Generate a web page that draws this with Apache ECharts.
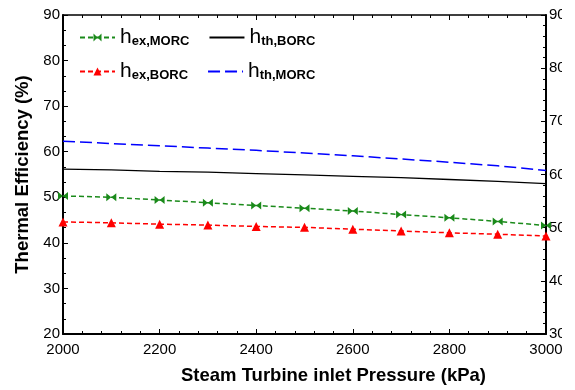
<!DOCTYPE html>
<html>
<head>
<meta charset="utf-8">
<script src="https://cdn.jsdelivr.net/npm/echarts@6/dist/echarts.min.js"></script>
<style>
  html, body { margin: 0; padding: 0; background: #fff; }
  .crop { width: 562px; height: 390px; overflow: hidden; }
  #chart { width: 575px; height: 390px; }
</style>
</head>
<body>
<div class="crop"><div id="chart"></div></div>
<script>
// steam turbine inlet pressure (kPa)
const pressure = [2000, 2100, 2200, 2300, 2400, 2500, 2600, 2700, 2800, 2900, 3000]
// efficiencies (%)
const hexMORC = [50.3, 50.0, 49.4, 48.8, 48.2, 47.6, 47.0, 46.2, 45.5, 44.7, 43.8]
const hthBORC = [56.2, 56.0, 55.7, 55.5, 55.2, 54.9, 54.6, 54.3, 53.9, 53.5, 53.0]
const hexBORC = [44.6, 44.4, 44.1, 43.9, 43.6, 43.4, 43.0, 42.6, 42.2, 41.9, 41.5]
const hthMORC = [62.3, 61.8, 61.3, 60.8, 60.3, 59.7, 59.1, 58.4, 57.7, 56.9, 55.9]

const subs = {
  hexMORC: 'ex,MORC',
  hthBORC: 'th,BORC',
  hexBORC: 'ex,BORC',
  hthMORC: 'th,MORC'
}

const font = 'Liberation Sans, Arial, sans-serif'
// bowtie marker used for the green series
const bowtie = 'path://M0,0 L5,5 L0,10 Z M10,0 L5,5 L10,10 Z'

const pairs = vals => pressure.map((p, i) => [p, vals[i]])

const chart = echarts.init(document.getElementById('chart'))

const legendBase = {
  left: 74,
  itemWidth: 35,
  itemHeight: 10,
  itemGap: 19,
  textStyle: {
    color: '#000',
    rich: {
      h: { fontSize: 21, fontFamily: font, color: '#000' },
      s: { fontSize: 13, fontWeight: 'bold', fontFamily: font, color: '#000', padding: [8, 0, 0, 0] }
    }
  },
  formatter: name => '{h|h}{s|' + subs[name] + '}'
}

const tickStyle = { color: '#000', width: 1 }

chart.setOption({
  animation: false,
  grid: { left: 63, right: 29, top: 15, bottom: 53 },
  legend: [
    Object.assign({}, legendBase, {
      top: 22,
      data: ['hexMORC', { name: 'hthBORC', itemStyle: { opacity: 0 } }]
    }),
    Object.assign({}, legendBase, {
      top: 56,
      data: ['hexBORC', { name: 'hthMORC', itemStyle: { opacity: 0 } }]
    })
  ],
  xAxis: [
    {
      type: 'value',
      min: 2000,
      max: 3000,
      interval: 200,
      name: 'Steam Turbine inlet Pressure (kPa)',
      nameLocation: 'middle',
      nameGap: 32,
      nameTextStyle: {
        fontSize: 18.5, fontWeight: 'bold', fontFamily: font, color: '#000',
        padding: [0, 0, 0, 58]
      },
      axisLine: { lineStyle: { color: '#000', width: 2 } },
      axisTick: { show: true, inside: true, length: 5, lineStyle: tickStyle },
      minorTick: { show: true, splitNumber: 5, length: 3, lineStyle: tickStyle },
      axisLabel: { fontSize: 15, fontFamily: font, color: '#000', margin: 8, formatter: v => String(v) },
      splitLine: { show: false }
    },
    {
      type: 'value',
      position: 'top',
      min: 2000,
      max: 3000,
      interval: 200,
      axisLine: { lineStyle: { color: '#000', width: 1.5 } },
      axisTick: { show: true, inside: true, length: 5, lineStyle: tickStyle },
      minorTick: { show: true, splitNumber: 5, length: 3, lineStyle: tickStyle },
      axisLabel: { show: false },
      splitLine: { show: false }
    }
  ],
  yAxis: [
    {
      type: 'value',
      min: 20,
      max: 90,
      interval: 10,
      name: 'Thermal Efficiency (%)',
      nameLocation: 'middle',
      nameGap: 29,
      nameTextStyle: { fontSize: 18.5, fontWeight: 'bold', fontFamily: font, color: '#000' },
      axisLine: { show: true, lineStyle: { color: '#000', width: 2 } },
      axisTick: { show: true, inside: true, length: 5, lineStyle: tickStyle },
      minorTick: { show: true, splitNumber: 3, length: 3, lineStyle: tickStyle },
      axisLabel: { fontSize: 15, fontFamily: font, color: '#000', margin: 3 },
      splitLine: { show: false }
    },
    {
      type: 'value',
      position: 'right',
      min: 30,
      max: 90,
      interval: 10,
      axisLine: { show: true, lineStyle: { color: '#000', width: 2 } },
      axisTick: { show: true, inside: true, length: 5, lineStyle: tickStyle },
      minorTick: { show: true, splitNumber: 5, length: 3, lineStyle: tickStyle },
      axisLabel: { fontSize: 15, fontFamily: font, color: '#000', margin: 3 },
      splitLine: { show: false }
    }
  ],
  series: [
    {
      name: 'hexMORC',
      type: 'line',
      data: pairs(hexMORC),
      symbol: bowtie,
      symbolSize: [10, 8],
      itemStyle: { color: '#1a8a1a' },
      lineStyle: { color: '#1a8a1a', width: 1.5, type: [5, 3] }
    },
    {
      name: 'hthBORC',
      type: 'line',
      data: pairs(hthBORC),
      symbol: 'none',
      itemStyle: { color: '#000' },
      lineStyle: { color: '#000', width: 1.3 }
    },
    {
      name: 'hexBORC',
      type: 'line',
      data: pairs(hexBORC),
      symbol: 'triangle',
      symbolSize: 9,
      itemStyle: { color: '#ff0000' },
      lineStyle: { color: '#ff0000', width: 1.5, type: [5, 3] }
    },
    {
      name: 'hthMORC',
      type: 'line',
      data: pairs(hthMORC),
      symbol: 'none',
      itemStyle: { color: '#0000ff' },
      lineStyle: { color: '#0000ff', width: 1.5, type: [12, 5] }
    }
  ]
})
</script>
</body>
</html>
